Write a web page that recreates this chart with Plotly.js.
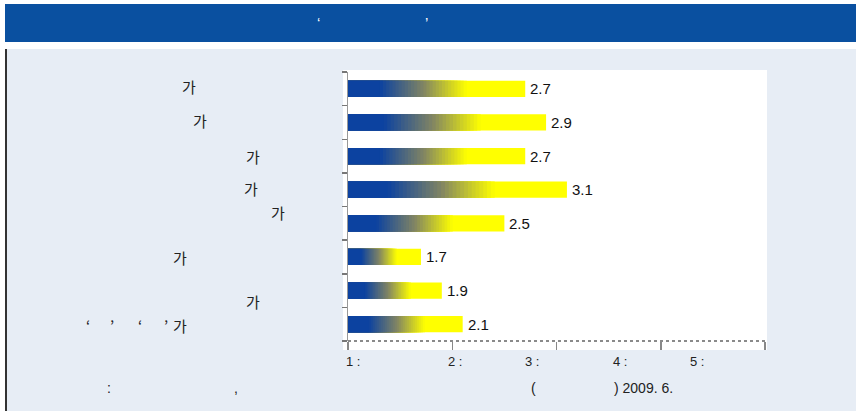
<!DOCTYPE html>
<html>
<head>
<meta charset="utf-8">
<script src="https://cdn.plot.ly/plotly-3.0.1.min.js"></script>
<style>html,body{margin:0;padding:0;background:#fff;}#chart{width:856px;height:411px;}</style>
</head>
<body>
<div id="chart"></div>
<script>
// ---- data ----
const categories = ["가", "가", "가", "가", "가", "가", "가", "‘ ’ ‘ ’가"];
const values = [2.7, 2.9, 2.7, 3.1, 2.5, 1.7, 1.9, 2.1];
const scaleLabels = ["1 :", "2 :", "3 :", "4 :", "5 :"];
const tickValues = [1, 2, 3, 4, 5];
const axisBase = 1;

// ---- layout helpers (pixel -> paper) ----
const L = 348, R = 765, T = 72, B = 341;
const W = R - L, H = B - T;
const px = v => (v - L) / W;
const py = v => 1 - (v - T) / H;

// label placement (layout only)
const labelLeft = [182, 193, 246, 244, 271, 173, 246, 173];
const labelTop = [87, 120, 156, 188, 212, 257, 301, 325];
const scaleLabelLeft = [346, 448, 525, 613, 690];

const idx = categories.map((_, i) => i);
const lengths = values.map(v => v - axisBase);

// gradient colours
const blue = [12, 66, 160], mid = [128, 132, 100], yellow = [255, 255, 0];
function mix(a, b, t) { return a.map((c, i) => Math.round(c + (b[i] - c) * t)); }
function grad(t) {
  const c = t < 0.5 ? mix(blue, mid, t / 0.5) : mix(mid, yellow, (t - 0.5) / 0.5);
  return `rgb(${c[0]},${c[1]},${c[2]})`;
}

const traces = [];
const barWidth = 0.48;
traces.push({
  type: 'bar', orientation: 'h', y: idx, x: lengths, base: axisBase,
  width: barWidth, marker: { color: '#ffff00', line: { width: 0 } },
  hoverinfo: 'skip', showlegend: false
});
const fStart = 0.18, fEnd = 0.67, N = 28;
for (let k = N; k >= 0; k--) {
  const e = fStart + (fEnd - fStart) * k / N;
  const t = k === 0 ? 0 : (k - 0.5) / N;
  traces.push({
    type: 'bar', orientation: 'h', y: idx, x: lengths.map(l => l * e), base: axisBase,
    width: barWidth, marker: { color: grad(t), line: { width: 0 } },
    hoverinfo: 'skip', showlegend: false
  });
}

const ann = [];
const catFont = { family: 'Noto Sans CJK KR, Liberation Sans, sans-serif', size: 15, color: '#222' };
const numFont = { family: 'Liberation Sans, Arial, sans-serif', size: 15, color: '#111' };
const smallFont = { family: 'Liberation Sans, Arial, sans-serif', size: 13, color: '#222' };

// category labels
categories.forEach((c, i) => {
  let text = c;
  if (c.length > 1) {
    const parts = ["‘", "’", "‘", "’"];
    const partX = [84, 108, 136, 162];
    parts.forEach((p, j) => ann.push({ xref: 'paper', yref: 'paper', x: px(partX[j]), y: py(labelTop[i]),
      xanchor: 'left', yanchor: 'middle', text: p, showarrow: false, font: catFont }));
    text = c.slice(-1);
  }
  ann.push({ xref: 'paper', yref: 'paper', x: px(labelLeft[i] - 2), y: py(labelTop[i]),
    xanchor: 'left', yanchor: 'middle', text: text, showarrow: false, font: catFont });
});

// value labels
values.forEach((v, i) => {
  ann.push({ xref: 'x', yref: 'y', x: v, y: i, xanchor: 'left', yanchor: 'middle',
    xshift: 3, text: v.toFixed(1), showarrow: false, font: numFont });
});

// scale labels
scaleLabels.forEach((s, i) => {
  ann.push({ xref: 'paper', yref: 'paper', x: px(scaleLabelLeft[i] - 2), y: py(361),
    xanchor: 'left', yanchor: 'middle', text: s, showarrow: false, font: smallFont });
});

// header marks
const whiteFont = { family: 'Liberation Sans, Arial, sans-serif', size: 15, color: '#ffffff' };
ann.push({ xref: 'paper', yref: 'paper', x: px(315), y: py(22), xanchor: 'left', yanchor: 'middle', text: '‘', showarrow: false, font: whiteFont });
ann.push({ xref: 'paper', yref: 'paper', x: px(423), y: py(22), xanchor: 'left', yanchor: 'middle', text: '’', showarrow: false, font: whiteFont });

// footer
const footFont = { family: 'Liberation Sans, Arial, sans-serif', size: 14, color: '#222' };
ann.push({ xref: 'paper', yref: 'paper', x: px(105), y: py(388), xanchor: 'left', yanchor: 'middle', text: ':', showarrow: false, font: footFont });
ann.push({ xref: 'paper', yref: 'paper', x: px(232), y: py(388), xanchor: 'left', yanchor: 'middle', text: ',', showarrow: false, font: footFont });
ann.push({ xref: 'paper', yref: 'paper', x: px(529), y: py(388), xanchor: 'left', yanchor: 'middle', text: '(', showarrow: false, font: footFont });
ann.push({ xref: 'paper', yref: 'paper', x: px(612), y: py(388), xanchor: 'left', yanchor: 'middle', text: ') 2009. 6.', showarrow: false, font: footFont });

const shapes = [
  { type: 'rect', xref: 'paper', yref: 'paper', x0: px(5), x1: px(860), y0: py(42), y1: py(4), layer: 'below', line: { width: 0 }, fillcolor: '#0a50a0' },
  { type: 'rect', xref: 'paper', yref: 'paper', x0: px(6), x1: px(860), y0: py(415), y1: py(49), layer: 'below', line: { width: 0 }, fillcolor: '#e7edf5' },
  { type: 'line', xref: 'paper', yref: 'paper', x0: px(6), x1: px(6), y0: py(415), y1: py(49), layer: 'below', line: { width: 2, color: '#333' } },
  { type: 'rect', xref: 'paper', yref: 'paper', x0: px(343), x1: px(767), y0: py(350), y1: py(70), layer: 'below', line: { width: 0 }, fillcolor: '#ffffff' },
  { type: 'line', xref: 'paper', yref: 'paper', x0: 0, x1: 1, y0: 0, y1: 0, layer: 'above', line: { width: 2, color: '#8a8a8a', dash: 'dot' } }
];

const layout = {
  width: 856, height: 411,
  margin: { l: L, r: 856 - R, t: T, b: 411 - B, pad: 0 },
  paper_bgcolor: '#ffffff', plot_bgcolor: 'rgba(0,0,0,0)',
  barmode: 'overlay', showlegend: false,
  xaxis: { range: [axisBase, 5], tickvals: tickValues, ticks: 'outside', ticklen: 8, tickwidth: 1.5, tickcolor: '#888',
    showticklabels: false, showgrid: false, zeroline: false, showline: false, fixedrange: true },
  yaxis: { range: [categories.length - 0.5, -0.5], tickvals: idx.concat([categories.length]).map(i => i - 0.5),
    ticks: 'outside', ticklen: 5, tickwidth: 1.5, tickcolor: '#777', showticklabels: false,
    showgrid: false, zeroline: false, showline: true, linecolor: '#999', linewidth: 1, fixedrange: true },
  shapes: shapes,
  annotations: ann
};

Plotly.newPlot('chart', traces, layout, { displayModeBar: false, staticPlot: true });
</script>
</body>
</html>
